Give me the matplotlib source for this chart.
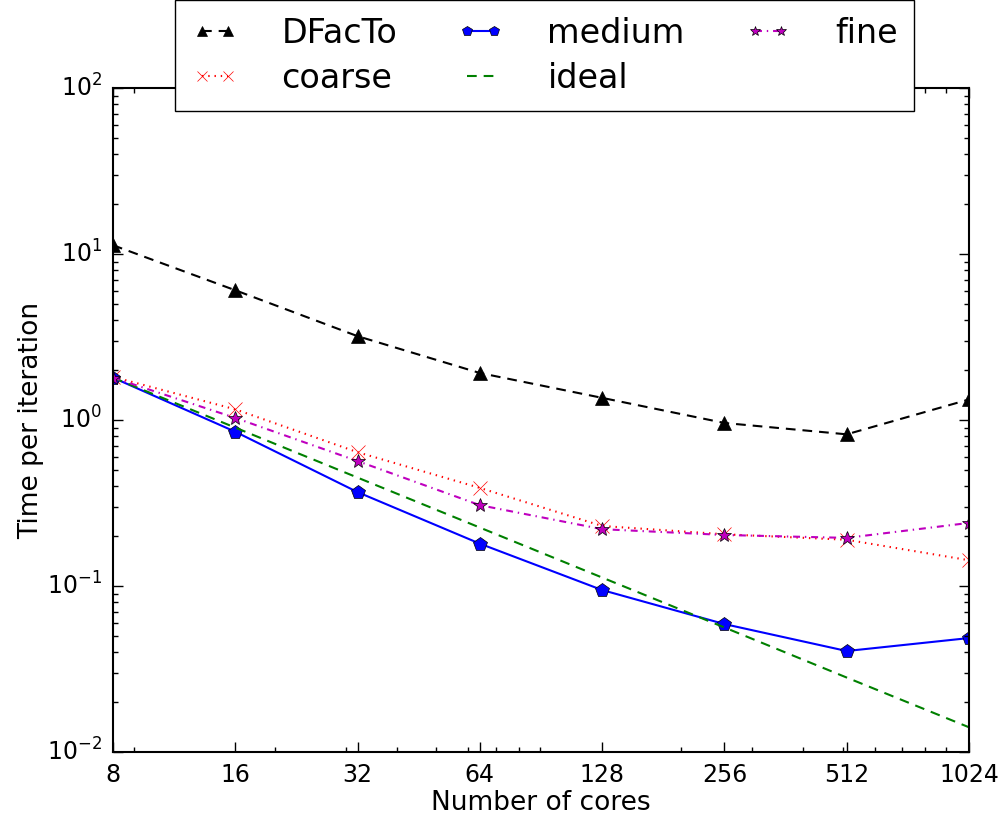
import matplotlib
matplotlib.use("Agg")
import matplotlib.pyplot as plt
from matplotlib.ticker import FixedLocator, FixedFormatter

plt.style.use("classic")

# Data
cores = [8, 16, 32, 64, 128, 256, 512, 1024]
dfacto = [11.3, 6.05, 3.2, 1.92, 1.36, 0.96, 0.82, 1.33]
coarse = [1.82, 1.16, 0.64, 0.39, 0.23, 0.205, 0.19, 0.143]
medium = [1.8, 0.85, 0.368, 0.18, 0.0946, 0.059, 0.0406, 0.0486]
ideal = [1.8, 0.9, 0.45, 0.225, 0.1125, 0.0563, 0.0281, 0.0141]
fine = [1.8, 1.03, 0.566, 0.307, 0.22, 0.203, 0.195, 0.24]

fig = plt.figure(figsize=(10.06, 8.21), dpi=100, facecolor="white")
ax = fig.add_axes([0.1123, 0.084, 0.8509, 0.8088])
ax.set_facecolor("white")

lw = 1.5
ax.plot(cores, dfacto, "k^", linestyle="--", dashes=(7, 5), markersize=10, linewidth=lw, label="DFacTo")
ax.plot(cores, coarse, "rx", linestyle=":", dashes=(1, 3.5), markersize=10, markeredgecolor="r",
        linewidth=lw, label="coarse")
ax.plot(cores, medium, "b-p", markersize=10, linewidth=lw, label="medium")
ax.plot(cores, ideal, "g", linestyle="--", dashes=(7, 5), linewidth=lw, label="ideal")
ax.plot(cores, fine, "m*", linestyle="-.", dashes=(5, 3.5, 1, 3.5), markersize=10, markeredgecolor="k",
        linewidth=lw, label="fine")

ax.set_xscale("log")
ax.set_yscale("log")
ax.set_xlim(8, 1024)
ax.set_ylim(1e-2, 1e2)
ax.xaxis.set_major_locator(FixedLocator(cores))
ax.xaxis.set_major_formatter(FixedFormatter([str(c) for c in cores]))

ax.tick_params(which="major", length=7, width=1, labelsize=17, pad=8)
ax.tick_params(which="minor", length=3.5, width=1)
for s in ax.spines.values():
    s.set_linewidth(1.5)

ax.set_xlabel("Number of cores", fontsize=19, labelpad=2)
ax.set_ylabel("Time per iteration", fontsize=19, labelpad=2)

ax.legend(loc="upper center", bbox_to_anchor=(0.5412, 1.0), bbox_transform=fig.transFigure,
          ncol=3, numpoints=2, fontsize=24, handlelength=1.4, columnspacing=1.8, markerscale=0.75,
          borderpad=0.5, labelspacing=0.36, handletextpad=1.3, borderaxespad=0.0)

fig.savefig("out.png", dpi=100, facecolor="white")
